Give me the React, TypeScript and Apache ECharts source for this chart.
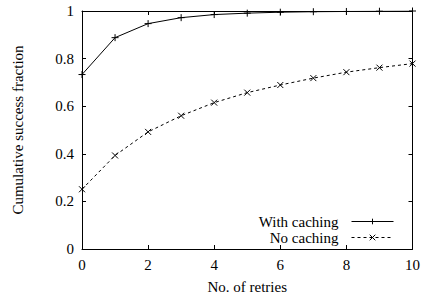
import React, { useEffect, useRef } from "react";
import * as echarts from "echarts";

const retries = [0, 1, 2, 3, 4, 5, 6, 7, 8, 9, 10];
const withCaching = [0.733, 0.888, 0.947, 0.972, 0.985, 0.991, 0.995, 0.997, 0.998, 0.999, 1.0];
const noCaching = [0.251, 0.393, 0.492, 0.56, 0.615, 0.657, 0.689, 0.718, 0.743, 0.762, 0.779];
const yTicks = [0, 0.2, 0.4, 0.6, 0.8, 1];

const PLUS = "path://M0,5L10,5M5,0L5,10";
const CROSS = "path://M0,0L10,10M10,0L0,10";
const FONT = "'Liberation Serif', 'Times New Roman', serif";

export default function App() {
  const ref = useRef<HTMLDivElement>(null);
  useEffect(() => {
    if (!ref.current) return;
    const chart = echarts.init(ref.current, undefined, { renderer: "svg" });
    const axisCommon = {
      axisLine: { show: true, onZero: false, lineStyle: { color: "#000", width: 1 } },
      axisTick: { show: true, inside: true, length: 4, lineStyle: { color: "#000" } },
      splitLine: { show: false },
    };
    const legendCommon = {
      right: 29,
      align: "right",
      itemWidth: 42,
      itemHeight: 7,
      itemGap: 10,
      padding: 0,
      lineStyle: { width: 1 },
      itemStyle: { borderWidth: 1 },
      textStyle: { color: "#000", fontSize: 15, fontFamily: FONT, padding: [0, 8, 0, 0] },
    };
    chart.setOption({
      animation: false,
      backgroundColor: "#fff",
      textStyle: { fontFamily: FONT },
      grid: { left: 82, right: 10, top: 11, bottom: 48 },
      xAxis: [
        {
          type: "value",
          min: 0,
          max: 10,
          interval: 2,
          ...axisCommon,
          axisLabel: { color: "#000", fontSize: 15, fontFamily: FONT, margin: 8 },
          name: "No. of retries",
          nameLocation: "middle",
          nameGap: 30,
          nameTextStyle: { color: "#000", fontSize: 15, fontFamily: FONT },
        },
        {
          type: "value",
          position: "top",
          min: 0,
          max: 10,
          interval: 2,
          ...axisCommon,
          axisLabel: { show: false },
        },
      ],
      yAxis: [
        {
          type: "value",
          min: 0,
          max: 1,
          interval: 0.2,
          ...axisCommon,
          axisLabel: {
            color: "#000",
            fontSize: 15,
            fontFamily: FONT,
            margin: 8,
            formatter: (v: number) => {
              const t = yTicks.find((k) => Math.abs(k - v) < 1e-6);
              return String(t !== undefined ? t : v);
            },
          },
          name: "Cumulative success fraction",
          nameLocation: "middle",
          nameGap: 57,
          nameTextStyle: { color: "#000", fontSize: 15, fontFamily: FONT },
        },
        {
          type: "value",
          position: "right",
          min: 0,
          max: 1,
          interval: 0.2,
          ...axisCommon,
          axisLabel: { show: false },
        },
      ],
      legend: [
        { ...legendCommon, data: ["With caching"], top: 214 },
        { ...legendCommon, data: ["No caching"], top: 230 },
      ],
      series: [
        {
          name: "With caching",
          type: "line",
          data: retries.map((x, i) => [x, withCaching[i]]),
          symbol: PLUS,
          symbolSize: 7,
          lineStyle: { color: "#000", width: 1, type: "solid" },
          itemStyle: { color: "#000", borderColor: "#000", borderWidth: 1 },
        },
        {
          name: "No caching",
          type: "line",
          data: retries.map((x, i) => [x, noCaching[i]]),
          symbol: CROSS,
          symbolSize: 6,
          lineStyle: { color: "#000", width: 1, type: [3, 3] },
          itemStyle: { color: "#000", borderColor: "#000", borderWidth: 1 },
        },
      ],
    });
    return () => chart.dispose();
  }, []);
  return <div ref={ref} style={{ width: 423, height: 299, position: "absolute", left: 0, top: 0 }} />;
}
